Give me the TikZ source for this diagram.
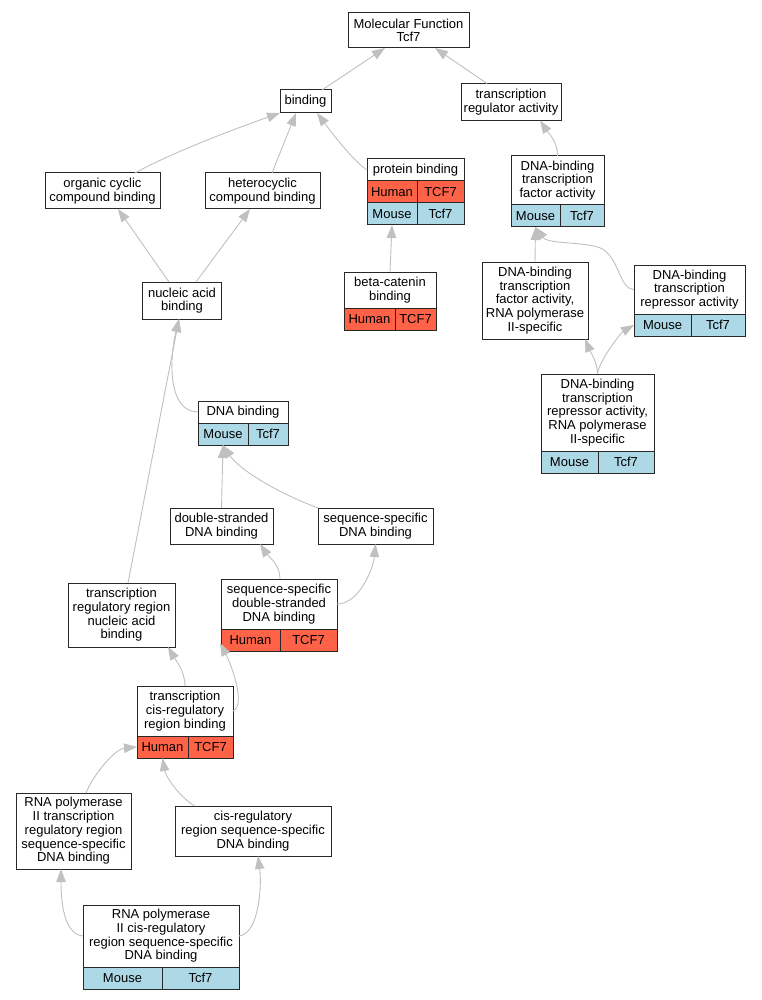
\documentclass[tikz,border=0pt]{standalone}
\usepackage{fontspec}
\setmainfont{Liberation Sans}
\usepackage{tikz}
\usetikzlibrary{arrows.meta}
\usetikzlibrary{positioning}

\definecolor{humanred}{RGB}{255,99,71}
\definecolor{mouseblue}{RGB}{173,216,230}
\definecolor{edgegray}{RGB}{192,192,192}
\definecolor{boxgray}{RGB}{40,40,40}

\begin{document}
\begin{tikzpicture}[x=1pt, y=-1pt,
term/.style={draw=boxgray, line width=1pt, fill=white, inner sep=0pt, outer sep=0pt, align=center, font=\fontsize{13}{13.7}\selectfont},
human/.style={term, fill=humanred, minimum height=22pt},
mouse/.style={term, fill=mouseblue, minimum height=22pt},
isa/.style={draw=edgegray, line width=0.9pt, -{Triangle[length=13pt,width=9.5pt]}}]

\useasboundingbox (0,0) rectangle (761,1000);

% terms
{
\node[term, minimum width=121pt, minimum height=35pt] (mf) at (408.5,30.5) {Molecular Function\\Tcf7};
\node[term, minimum width=51pt, minimum height=23pt] (bind) at (305.5,101.5) {binding};
\node[term, minimum width=100pt, minimum height=37pt] (tra) at (511,102) {transcription\\regulator activity};

\node[term, minimum width=115pt, minimum height=36pt] (occb) at (102.5,191) {organic cyclic\\compound binding};
\node[term, minimum width=115pt, minimum height=36pt] (hcb) at (262.5,191) {heterocyclic\\compound binding};
\node[term, minimum width=97pt, minimum height=22pt] (pb) at (415.5,170) {protein binding};
\node[term, minimum width=93pt, minimum height=49pt] (dbtfa) at (557.5,180.5) {DNA-binding\\transcription\\factor activity};

\node[term, minimum width=79pt, minimum height=37pt] (nab) at (182,300.5) {nucleic acid\\binding};
\node[term, minimum width=92pt, minimum height=36pt] (bcb) at (390,290) {beta-catenin\\binding};
\node[term, minimum width=106pt, minimum height=77pt] (dbtfa2) at (535,300.5) {DNA-binding\\transcription\\factor activity,\\RNA polymerase\\II-specific};
\node[term, minimum width=111pt, minimum height=49pt] (dbtra) at (689.5,289.5) {DNA-binding\\transcription\\repressor activity};
\node[term, minimum width=113pt, minimum height=77pt] (dbtra2) at (597.5,412.5) {DNA-binding\\transcription\\repressor activity,\\RNA polymerase\\II-specific};

\node[term, minimum width=90pt, minimum height=22pt] (db) at (243,412) {DNA binding};
\node[term, minimum width=103pt, minimum height=36pt] (dsdb) at (221.5,526) {double-stranded\\DNA binding};
\node[term, minimum width=115pt, minimum height=36pt] (ssdb) at (375.5,526) {sequence-specific\\DNA binding};
\node[term, minimum width=107pt, minimum height=64pt] (trrnab) at (121.5,615) {transcription\\regulatory region\\nucleic acid\\binding};
\node[term, minimum width=116pt, minimum height=50pt] (ssdsdb) at (279,604) {sequence-specific\\double-stranded\\DNA binding};
\node[term, minimum width=96pt, minimum height=50pt] (tcrrb) at (185,711) {transcription\\cis-regulatory\\region binding};

\node[term, minimum width=115pt, minimum height=76pt] (rnaptrr) at (73.5,831) {RNA polymerase\\II transcription\\regulatory region\\sequence-specific\\DNA binding};
\node[term, minimum width=156pt, minimum height=50pt] (crrssdb) at (253,831) {cis-regulatory\\region sequence-specific\\DNA binding};
\node[term, minimum width=156pt, minimum height=62pt] (rnapcrr) at (161,936) {RNA polymerase\\II cis-regulatory\\region sequence-specific\\DNA binding};
}

% species rows
{
\node[human, minimum width=50pt, anchor=north west] (pbH) at (pb.south west) {Human};
\node[human, minimum width=47pt, anchor=north east] (pbHg) at (pb.south east) {TCF7};
\node[mouse, minimum width=50pt, anchor=north west] (pbM) at (pbH.south west) {Mouse};
\node[mouse, minimum width=47pt, anchor=north east] (pbMg) at (pbHg.south east) {Tcf7};

\node[mouse, minimum width=49pt, anchor=north west] (dbtfaM) at (dbtfa.south west) {Mouse};
\node[mouse, minimum width=44pt, anchor=north east] (dbtfaMg) at (dbtfa.south east) {Tcf7};

\node[human, minimum width=51pt, anchor=north west] (bcbH) at (bcb.south west) {Human};
\node[human, minimum width=41pt, anchor=north east] (bcbHg) at (bcb.south east) {TCF7};

\node[mouse, minimum width=57pt, anchor=north west] (dbtraM) at (dbtra.south west) {Mouse};
\node[mouse, minimum width=54pt, anchor=north east] (dbtraMg) at (dbtra.south east) {Tcf7};

\node[mouse, minimum width=57pt, anchor=north west] (dbtra2M) at (dbtra2.south west) {Mouse};
\node[mouse, minimum width=56pt, anchor=north east] (dbtra2Mg) at (dbtra2.south east) {Tcf7};

\node[mouse, minimum width=50pt, anchor=north west] (dbM) at (db.south west) {Mouse};
\node[mouse, minimum width=40pt, anchor=north east] (dbMg) at (db.south east) {Tcf7};

\node[human, minimum width=59pt, anchor=north west] (ssdsdbH) at (ssdsdb.south west) {Human};
\node[human, minimum width=57pt, anchor=north east] (ssdsdbHg) at (ssdsdb.south east) {TCF7};

\node[human, minimum width=51pt, anchor=north west] (tcrrbH) at (tcrrb.south west) {Human};
\node[human, minimum width=45pt, anchor=north east] (tcrrbHg) at (tcrrb.south east) {TCF7};

\node[mouse, minimum width=79pt, anchor=north west] (rnapcrrM) at (rnapcrr.south west) {Mouse};
\node[mouse, minimum width=77pt, anchor=north east] (rnapcrrMg) at (rnapcrr.south east) {Tcf7};
}

% is-a edges
{
\coordinate (dbtraBend) at (604,250);

\draw[isa] ([xshift=16.5pt]bind.north) -- ([xshift=-23.5pt]mf.south);
\draw[isa] ([xshift=-24pt]tra.north) -- ([xshift=26.5pt]mf.south);

\draw[isa] ([xshift=32.5pt]occb.north) .. controls +(40,-22) and +(-40,14) .. (bind.south west);
\draw[isa] ([xshift=9.5pt]hcb.north) -- ([xshift=-9.5pt]bind.south);
\draw[isa] (pb.west) .. controls +(-15,-10) and +(12,16) .. ([xshift=11.5pt]bind.south);
\draw[isa] (dbtfa.north) .. controls +(0,-15) and +(8,12) .. ([xshift=29pt]tra.south);

\draw[isa] ([xshift=-13pt]nab.north) -- ([xshift=15.5pt]occb.south);
\draw[isa] ([xshift=14pt]nab.north) -- ([xshift=-12.5pt]hcb.south);
\draw[isa] (bcb.north) -- (pbM.south);
\draw[isa] (dbtfa2.north) -- (dbtfaM.south);
\draw[isa] (dbtra.west) .. controls +(-14,0) and +(16,12) .. (dbtraBend) .. controls +(-12,-9) and +(13,18) .. (dbtfaM.south);
\draw[isa] (dbtra2.north) .. controls +(0,-12) and +(5,12) .. ([xshift=50pt]dbtfa2.south);
\draw[isa] (dbtra2.north) .. controls +(2,-15) and +(-12,7) .. (dbtraM.west);

\draw[isa] (db.west) .. controls +(-30,0) and +(-10,41) .. ([xshift=-3pt]nab.south);
\draw[isa] ([xshift=6.5pt]trrnab.north) -- ([xshift=-3pt]nab.south);
\draw[isa] (dsdb.north) -- (dbM.south);
\draw[isa] (ssdb.north west) .. controls +(-45,-17) and +(15,23) .. (dbM.south);

\draw[isa] ([xshift=1pt]ssdsdb.north) .. controls +(0,-15) and +(8,12) .. ([xshift=38.5pt]dsdb.south);
\draw[isa] (ssdsdb.east) .. controls +(23,0) and +(-2,23) .. (ssdb.south);
\draw[isa] (tcrrb.north) .. controls +(0,-15) and +(7,12) .. ([xshift=46.5pt]trrnab.south);
\draw[isa] (tcrrb.east) .. controls +(13,-6) and +(12,23) .. ([xshift=-1pt,yshift=8pt]ssdsdbH.south west);

\draw[isa] ([xshift=12.5pt]rnaptrr.north) .. controls +(7,-18) and +(-22,2) .. (tcrrbH.west);
\draw[isa] ([xshift=-58pt]crrssdb.north) .. controls +(-15,-8) and +(3,18) .. (tcrrbH.south);
\draw[isa] (rnapcrr.west) .. controls +(-20,-2) and +(0,30) .. ([xshift=-12.5pt]rnaptrr.south);
\draw[isa] (rnapcrr.east) .. controls +(20,-2) and +(4,30) .. ([xshift=5pt]crrssdb.south);
}

\end{tikzpicture}
\end{document}
